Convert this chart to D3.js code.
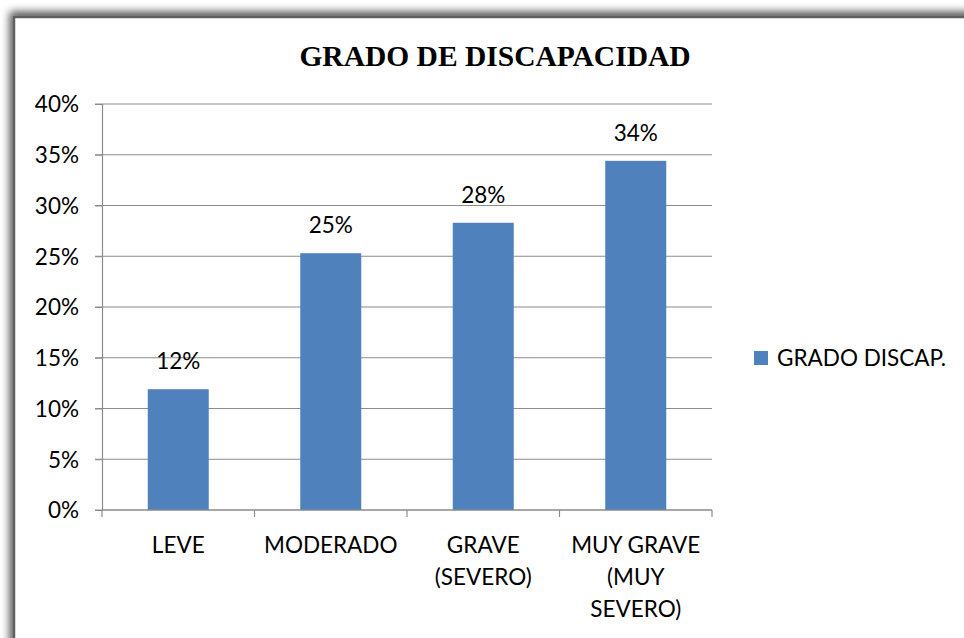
<!DOCTYPE html>
<html>
<head>
<meta charset="utf-8">
<script src="https://cdn.jsdelivr.net/npm/d3@7"></script>
<style>
  body { margin: 0; background: #fff; }
  svg text { font-family: Lato, "Open Sans", sans-serif; fill: #000; }
</style>
</head>
<body>
<div id="chart"></div>
<script>
const categories = [["LEVE"], ["MODERADO"], ["GRAVE", "(SEVERO)"], ["MUY GRAVE", "(MUY", "SEVERO)"]];
const values = [11.9, 25.3, 28.3, 34.4];
const labels = ["12%", "25%", "28%", "34%"];
const yTicks = [0, 5, 10, 15, 20, 25, 30, 35, 40];
const seriesName = "GRADO DISCAP.";

const width = 964, height = 638;
const margin = {top: 104, left: 102, right: 252, bottom: 128};
const fs = "22.5px";

const svg = d3.select("#chart").append("svg")
  .attr("width", width)
  .attr("height", height);

// frame with soft shadow
const defs = svg.append("defs");
const f = defs.append("filter").attr("id", "shadow")
  .attr("x", "-5%").attr("y", "-5%").attr("width", "110%").attr("height", "110%");
f.append("feGaussianBlur").attr("in", "SourceAlpha").attr("stdDeviation", 4);
f.append("feOffset").attr("dx", -3).attr("dy", -4).attr("result", "b");
f.append("feComponentTransfer").append("feFuncA").attr("type", "linear").attr("slope", 0.7);
const m = f.append("feMerge");
m.append("feMergeNode");
m.append("feMergeNode").attr("in", "SourceGraphic");

svg.append("rect")
  .attr("x", 14).attr("y", 17)
  .attr("width", 1000).attr("height", 700)
  .attr("fill", "#fff")
  .attr("stroke", "#5f5f5f")
  .attr("stroke-width", 2.5)
  .attr("filter", "url(#shadow)");

const x = d3.scaleBand()
  .domain(d3.range(categories.length))
  .range([margin.left, width - margin.right])
  .paddingInner(0.6)
  .paddingOuter(0.3);

const y = d3.scaleLinear()
  .domain([0, 40])
  .range([height - margin.bottom, margin.top]);

// gridlines
svg.append("g")
  .selectAll("line")
  .data(yTicks)
  .join("line")
  .attr("x1", margin.left - 7)
  .attr("x2", width - margin.right)
  .attr("y1", d => y(d))
  .attr("y2", d => y(d))
  .attr("stroke", "#8c8c8c")
  .attr("stroke-width", 1.2);

// y axis
const yAxis = svg.append("g")
  .attr("transform", `translate(${margin.left},0)`)
  .call(d3.axisLeft(y).tickValues(yTicks).tickFormat(d => d + "%").tickSize(7).tickPadding(16));
yAxis.select(".domain").attr("stroke", "#8c8c8c").attr("stroke-width", 1.2);
yAxis.selectAll(".tick line").attr("stroke", "#8c8c8c");
yAxis.selectAll("text").style("font-size", fs).attr("dy", "0.35em");

// bars
svg.append("g")
  .selectAll("rect")
  .data(values)
  .join("rect")
  .attr("x", (d, i) => x(i))
  .attr("y", d => y(d))
  .attr("width", x.bandwidth())
  .attr("height", d => y(0) - y(d))
  .attr("fill", "#4f81bd");

// x axis with boundary ticks
const step = x.step();
const bounds = d3.range(categories.length + 1).map(i => margin.left + i * step);
const xg = svg.append("g");
xg.append("line")
  .attr("x1", margin.left).attr("x2", width - margin.right)
  .attr("y1", y(0)).attr("y2", y(0))
  .attr("stroke", "#8c8c8c").attr("stroke-width", 1.2);
xg.selectAll(".bt")
  .data(bounds)
  .join("line")
  .attr("x1", d => d).attr("x2", d => d)
  .attr("y1", y(0)).attr("y2", y(0) + 7)
  .attr("stroke", "#8c8c8c").attr("stroke-width", 1.2);

// category labels
svg.append("g")
  .selectAll("text")
  .data(categories)
  .join("text")
  .attr("text-anchor", "middle")
  .style("font-size", fs)
  .each(function(lines, i) {
    d3.select(this).selectAll("tspan")
      .data(lines)
      .join("tspan")
      .attr("x", x(i) + x.bandwidth() / 2)
      .attr("y", (d, j) => y(0) + 43 + j * 32)
      .text(d => d);
  });

// value labels
svg.append("g")
  .selectAll("text")
  .data(values)
  .join("text")
  .attr("text-anchor", "middle")
  .attr("x", (d, i) => x(i) + x.bandwidth() / 2)
  .attr("y", d => y(d) - 20)
  .style("font-size", fs)
  .text((d, i) => labels[i]);

// title
svg.append("text")
  .attr("x", 495)
  .attr("y", 66)
  .attr("text-anchor", "middle")
  .style("font-family", "'Liberation Serif', 'Times New Roman', serif")
  .style("font-weight", "bold")
  .style("font-size", "29.5px")
  .text("GRADO DE DISCAPACIDAD");

// legend
const lg = svg.append("g").attr("transform", "translate(754,351)");
lg.append("rect").attr("width", 14).attr("height", 14).attr("fill", "#4f81bd");
lg.append("text").attr("x", 23).attr("y", 7).attr("dy", "0.35em")
  .style("font-size", fs).text(seriesName);
</script>
</body>
</html>
